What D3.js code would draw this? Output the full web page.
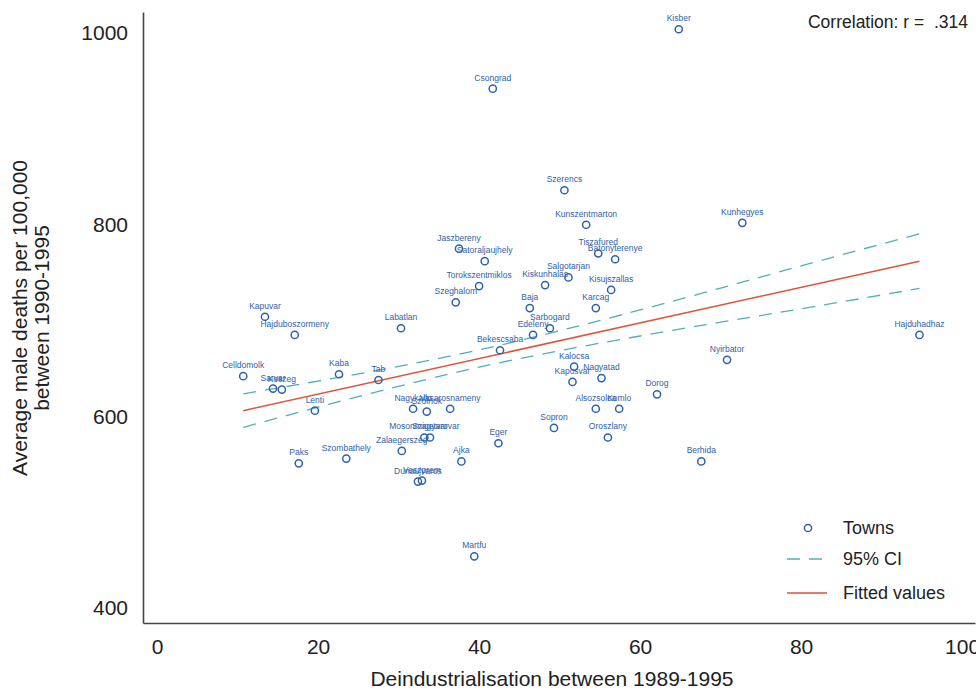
<!DOCTYPE html>
<html lang="en">
<head>
<meta charset="utf-8">
<title>Deindustrialisation and male mortality</title>
<script src="https://d3js.org/d3.v7.min.js"></script>
<style>
    body { margin: 0; background: #fff; }
    #chart text { font-family: "Liberation Sans", Arial, sans-serif; }
</style>
</head>
<body>
<div id="chart"></div>
<script>

// towns: name, deindustrialisation (x), male deaths (y)
const towns = ["Kisber","Csongrad","Szerencs","Kunszentmarton","Kunhegyes","Jaszbereny","Satoraljaujhely","Tiszafured","Batonyterenye","Salgotarjan","Kiskunhalas","Torokszentmiklos","Kisujszallas","Szeghalom","Baja","Karcag","Kapuvar","Labatlan","Sarbogard","Edeleny","Hajduboszormeny","Hajduhadhaz","Bekescsaba","Nyirbator","Kalocsa","Celldomolk","Kaba","Tab","Nagyatad","Kaposvar","Sarvar","Koszeg","Dorog","Lenti","Nagykallo","Szolnok","Vasarosnameny","Alsozsolca","Komlo","Sopron","Oroszlany","Mosonmagyarovar","Szigetvar","Zalaegerszeg","Eger","Ajka","Paks","Szombathely","Dunaujvaros","Veszprem","Berhida","Martfu"]
const deind = [64.8,41.7,50.6,53.3,72.7,37.5,40.7,54.8,56.9,51.1,48.2,40.0,56.4,37.1,46.3,54.5,13.4,30.3,48.8,46.7,17.1,94.7,42.6,70.8,51.8,10.7,22.6,27.5,55.2,51.6,14.4,15.5,62.1,19.6,31.8,33.5,36.4,54.5,57.4,49.3,56.0,33.2,33.9,30.4,42.4,37.8,17.6,23.5,32.4,32.9,67.6,39.4]
const deaths = [1004,942,836,800,802,775,762,770,764,745,737,736,732,719,713,713,704,692,692,685,685,685,669,659,652,642,644,638,640,636,629,628,623,606,608,605,608,608,608,588,578,578,578,564,572,553,551,556,532,533,553,454]

// fitted line and 95% CI
const fitX = [10.7, 94.7]
const fitY = [606, 762]
const ciX = [10.7, 20, 30, 40, 50, 60, 70, 80, 94.7]
const ciUpper = [623.5, 636.9, 652.2, 669.4, 689.4, 711.1, 733.9, 757.1, 790.5]
const ciLower = [588.5, 609.7, 631.4, 651.4, 668.6, 683.9, 698.3, 712.3, 733.5]

const xTicks = [0, 20, 40, 60, 80, 100]
const yTicks = [400, 600, 800, 1000]

const width = 976, height = 690
const pointColor = "#2e62ad"
const ciColor = "#4fb0b8"
const fitColor = "#d9553b"

const svg = d3.select("#chart").append("svg")
    .attr("width", width)
    .attr("height", height)

const x = d3.scaleLinear().domain([-1.75, 101.6]).range([143, 975])
const y = d3.scaleLinear().domain([384.4, 1022]).range([623, 12])

// axes
svg.append("g")
    .attr("transform", "translate(0," + y(384.4) + ")")
    .call(d3.axisBottom(x).tickValues(xTicks).tickSize(0).tickPadding(16).tickFormat(d3.format("d")))
svg.append("g")
    .attr("transform", "translate(" + x(-1.75) + ",0)")
    .call(d3.axisLeft(y).tickValues(yTicks).tickSize(0).tickPadding(15).tickFormat(d3.format("d")))

svg.selectAll(".domain").attr("stroke", "#444").attr("stroke-width", 1.6)
svg.selectAll(".tick text")
    .attr("font-size", 21)
    .attr("fill", "#222")
    .style("font-family", "'Liberation Sans', Arial, sans-serif")

// axis titles
svg.append("text")
    .attr("x", 552).attr("y", 686)
    .attr("text-anchor", "middle")
    .attr("font-size", 21).attr("fill", "#222")
    .text("Deindustrialisation between 1989-1995")

const yTitle = svg.append("text")
    .attr("transform", "translate(27,318) rotate(-90)")
    .attr("text-anchor", "middle")
    .attr("font-size", 21).attr("fill", "#222")
yTitle.append("tspan").attr("x", 0).attr("dy", 0).text("Average male deaths per 100,000")
yTitle.append("tspan").attr("x", 0).attr("dy", 22).text("between 1990-1995")

// CI lines
const ciLine = d3.line().x((d, i) => x(ciX[i])).y(d => y(d)).curve(d3.curveMonotoneX)
;[ciUpper, ciLower].forEach(arr => {
    svg.append("path")
        .attr("d", ciLine(arr))
        .attr("fill", "none")
        .attr("stroke", ciColor)
        .attr("stroke-width", 1.3)
        .attr("stroke-dasharray", "13,9")
})

// fitted line
svg.append("line")
    .attr("x1", x(fitX[0])).attr("y1", y(fitY[0]))
    .attr("x2", x(fitX[1])).attr("y2", y(fitY[1]))
    .attr("stroke", fitColor)
    .attr("stroke-width", 1.5)

// towns
const g = svg.append("g")
towns.forEach((name, i) => {
    g.append("circle")
        .attr("cx", x(deind[i])).attr("cy", y(deaths[i]))
        .attr("r", 3.6)
        .attr("fill", "none")
        .attr("stroke", pointColor)
        .attr("stroke-width", 1.5)
    g.append("text")
        .attr("x", x(deind[i])).attr("y", y(deaths[i]) - 8)
        .attr("text-anchor", "middle")
        .attr("font-size", 8.5)
        .attr("fill", pointColor)
        .text(name)
})

// correlation
svg.append("text")
    .attr("x", 968).attr("y", 28)
    .attr("text-anchor", "end")
    .attr("font-size", 17.5).attr("fill", "#222")
    .style("white-space", "pre")
    .text("Correlation: r =  .314")

// legend
const legend = svg.append("g").attr("transform", "translate(787,0)")
legend.append("circle").attr("cx", 21).attr("cy", 528).attr("r", 3.6)
    .attr("fill", "none").attr("stroke", pointColor).attr("stroke-width", 1.5)
legend.append("line").attr("x1", 0).attr("x2", 40).attr("y1", 559).attr("y2", 559)
    .attr("stroke", ciColor).attr("stroke-width", 1.3).attr("stroke-dasharray", "13,9")
legend.append("line").attr("x1", 0).attr("x2", 40).attr("y1", 593).attr("y2", 593)
    .attr("stroke", fitColor).attr("stroke-width", 1.5)
const legendLabels = ["Towns", "95% CI", "Fitted values"]
legendLabels.forEach((t, i) => {
    legend.append("text")
        .attr("x", 56).attr("y", [528, 559, 593][i])
        .attr("dy", "0.35em")
        .attr("font-size", 18).attr("fill", "#222")
        .text(t)
})

</script>
</body>
</html>
